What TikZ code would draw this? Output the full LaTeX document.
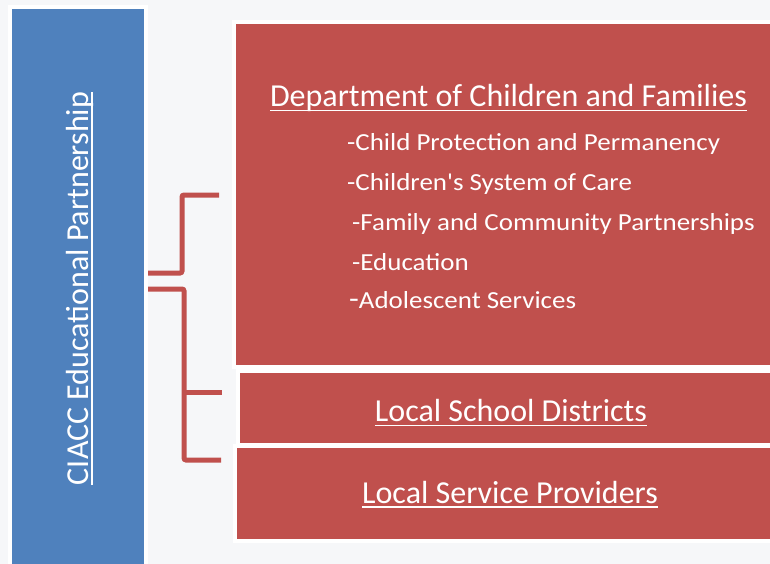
\documentclass[tikz,border=0pt]{standalone}
\usepackage{fontspec}
\setmainfont{Carlito}
\newfontfamily\itemfont[FakeStretch=1.1, Ligatures=TeXOff]{Carlito}
\definecolor{pagebg}{RGB}{246,247,249}
\definecolor{boxblue}{RGB}{79,129,189}
\definecolor{boxred}{RGB}{192,80,77}
\newcommand{\ulined}[1]{\setbox0\hbox{#1}\leavevmode\rlap{\rule[-4.5pt]{\wd0}{1.4pt}}\box0}
\begin{document}
\begin{tikzpicture}[x=1pt,y=-1pt]
\tikzstyle{every node}=[text=white, inner sep=0pt]
\tikzstyle{panel}=[draw=white, line width=4pt, rectangle]
\tikzstyle{title}=[font=\fontsize{32}{36}\selectfont]
\tikzstyle{item}=[font=\itemfont\fontsize{24.5}{28}\selectfont, anchor=base west]
\tikzstyle{bracket}=[draw=boxred, line width=5pt, rounded corners=2pt]

\fill[pagebg] (0,0) rectangle (770,564);
\clip (0,0) rectangle (770,564);
\useasboundingbox (0,0) rectangle (770,564);

% boxes
\node[panel, fill=boxblue, minimum width=135.5pt, minimum height=573pt] (partner) at (77.75,293.5) {};
\node[panel, fill=boxred, minimum width=556pt, minimum height=345pt] (dcf) at (512,194.5) {};
\node[panel, fill=boxred, minimum width=552pt, minimum height=74pt] (lsd) at (514,408) {};
\node[panel, fill=boxred, minimum width=555pt, minimum height=95pt] (lsp) at (512.5,493.5) {};

% texts
\node[title, rotate=90, anchor=base] (partnertext) at (88,288.5) {\ulined{CIACC Educational Partnership}};
\node[title, anchor=base] (dcftext) at (508.5,107) {\ulined{Department of Children and Families}};
\node[item] (i1) at (347,151) {-Child Protection and Permanency};
\node[item] (i2) at (347,190) {-Children's System of Care};
\node[item] (i3) at (352,230) {-Family and Community Partnerships};
\node[item] (i4) at (352,270) {-Education};
\node[item] (i5) at (349,308) {{\fontsize{29}{29}\selectfont -}Adolescent Services};
\node[title, anchor=base] (lsdtext) at (511,421.5) {\ulined{Local School Districts}};
\node[title, anchor=base] (lsptext) at (510,503) {\ulined{Local Service Providers}};

% brackets
\coordinate (a1) at (148,273);
\coordinate (a2) at (219,195);
\coordinate (b1) at (148,289);
\coordinate (b2) at (222,392);
\coordinate (b3) at (221,460);
\draw[bracket] (a1) -- (182,273) -- (182,195) -- (a2);
\draw[bracket] (b1) -- (184,289) -- (184,460) -- (b3);
\draw[bracket, rounded corners=0pt] (184,392) -- (b2);

\end{tikzpicture}
\end{document}
